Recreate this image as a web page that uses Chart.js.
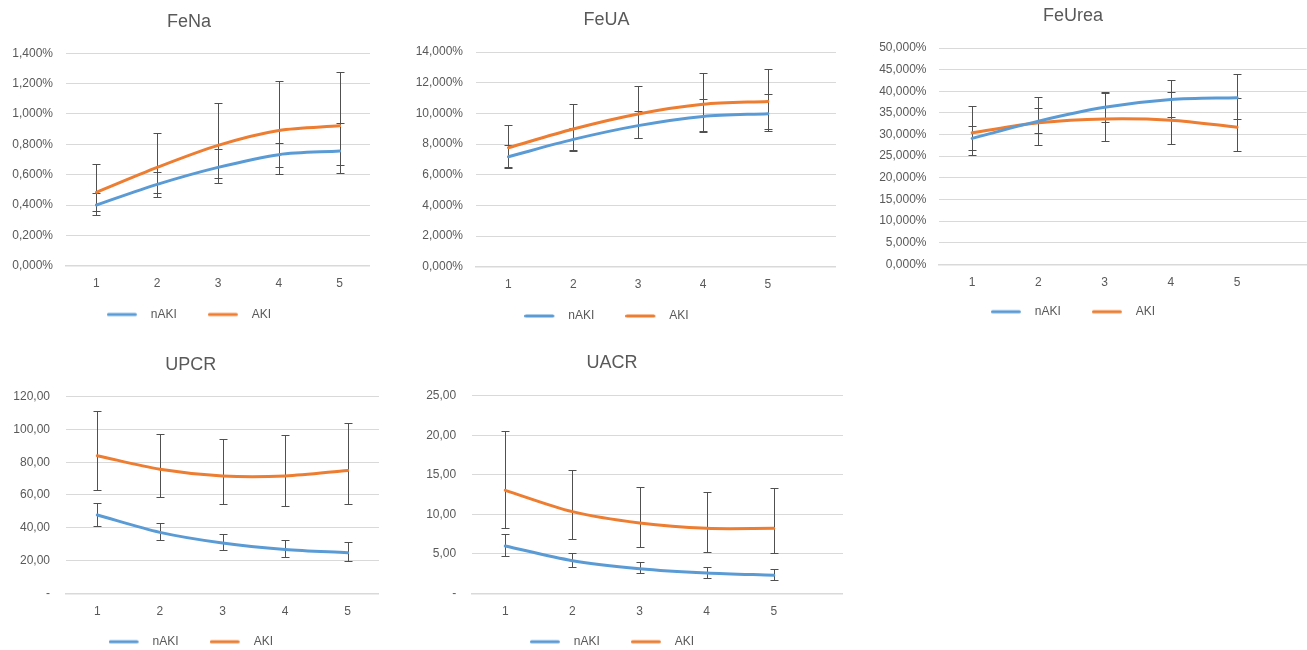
<!DOCTYPE html>
<html lang="en">
<head>
	<meta charset="UTF-8">
	<title>FeNa, FeUA, FeUrea, UPCR, UACR</title>
	<style>
		html, body { margin: 0; background: #fff; overflow: hidden; }
		.chart { position: absolute; }
	</style>
</head>
<body>
	<script src="https://cdn.jsdelivr.net/npm/chart.js"></script>

	<div id="fena" class="chart"><canvas></canvas></div>
	<div id="feua" class="chart"><canvas></canvas></div>
	<div id="feurea" class="chart"><canvas></canvas></div>
	<div id="upcr" class="chart"><canvas></canvas></div>
	<div id="uacr" class="chart"><canvas></canvas></div>

	<script>
		const categories = [1, 2, 3, 4, 5]
		const seriesNames = ["nAKI", "AKI"]
		const seriesColors = ["#5B9BD5", "#ED7D31"]

		// FeNa (%)
		const fenaNaki = [0.400, 0.536, 0.648, 0.732, 0.756]
		const fenaNakiLow = [0.360, 0.481, 0.576, 0.653, 0.666]
		const fenaNakiHigh = [0.477, 0.620, 0.769, 0.810, 0.941]
		const fenaAki = [0.484, 0.648, 0.793, 0.891, 0.922]
		const fenaAkiLow = [0.334, 0.455, 0.547, 0.603, 0.609]
		const fenaAkiHigh = [0.670, 0.875, 1.073, 1.218, 1.275]

		// FeUA (%)
		const feuaNaki = [7.17, 8.30, 9.20, 9.80, 9.98]
		const feuaNakiLow = [6.46, 7.57, 8.37, 8.85, 8.96]
		const feuaNakiHigh = [7.91, 9.07, 10.15, 10.96, 11.28]
		const feuaAki = [7.76, 8.98, 9.96, 10.59, 10.78]
		const feuaAkiLow = [6.50, 7.60, 8.40, 8.76, 8.83]
		const feuaAkiHigh = [9.26, 10.61, 11.80, 12.63, 12.91]

		// FeUrea (%)
		const feureaNaki = [29.1, 33.1, 36.3, 38.1, 38.5]
		const feureaNakiLow = [26.4, 30.4, 32.9, 34.1, 33.6]
		const feureaNakiHigh = [32.0, 36.1, 39.6, 42.6, 44.1]
		const feureaAki = [30.4, 32.7, 33.6, 33.3, 31.7]
		const feureaAkiLow = [25.2, 27.6, 28.4, 27.8, 26.2]
		const feureaAkiHigh = [36.7, 38.6, 39.8, 39.9, 38.5]

		// UPCR
		const upcrNaki = [47.8, 37.2, 30.7, 26.8, 24.8]
		const upcrNakiLow = [41.1, 32.5, 26.4, 22.2, 19.5]
		const upcrNakiHigh = [54.9, 42.7, 36.2, 32.5, 31.3]
		const upcrAki = [84.0, 75.7, 71.6, 71.6, 75.0]
		const upcrAkiLow = [63.3, 58.6, 54.5, 53.1, 54.3]
		const upcrAkiHigh = [111.2, 97.4, 94.0, 96.4, 104.1]

		// UACR
		const uacrNaki = [5.99, 4.13, 3.12, 2.57, 2.28]
		const uacrNakiLow = [4.72, 3.37, 2.53, 1.98, 1.69]
		const uacrNakiHigh = [7.50, 5.14, 3.96, 3.33, 3.12]
		const uacrAki = [13.03, 10.33, 8.90, 8.22, 8.22]
		const uacrAkiLow = [8.31, 6.83, 5.82, 5.23, 5.10]
		const uacrAkiHigh = [20.57, 15.56, 13.45, 12.86, 13.28]

		Chart.defaults.font.family = '"Liberation Sans", Arial, sans-serif'
		Chart.defaults.font.size = 12
		Chart.defaults.color = "#595959"

		const percent = v => v.toFixed(3).replace(".", ",") + "%"
		const decimal = v => v === 0 ? "-" : v.toFixed(2).replace(".", ",")

		const legendPad = 31

		// short thick line used as the legend marker
		function legendLine(color) {
			const c = document.createElement("canvas")
			c.width = 38
			c.height = 6
			const g = c.getContext("2d")
			g.strokeStyle = color
			g.lineWidth = 3
			g.lineCap = "round"
			g.beginPath()
			g.moveTo(1.5, 3)
			g.lineTo(28.5, 3)
			g.stroke()
			return c
		}
		const legendMarks = seriesColors.map(legendLine)

		const errorBars = {
			id: "errorBars",
			beforeDatasetsDraw(chart) {
				const {ctx, scales: {x, y}} = chart
				ctx.save()
				ctx.strokeStyle = "#505050"
				ctx.lineWidth = 1
				chart.data.datasets.forEach(ds => {
					ds.errorLow.forEach((low, i) => {
						const px = Math.round(x.getPixelForValue(chart.data.labels[i])) + 0.5
						const yLow = Math.round(y.getPixelForValue(low)) + 0.5
						const yHigh = Math.round(y.getPixelForValue(ds.errorHigh[i])) + 0.5
						ctx.beginPath()
						ctx.moveTo(px, yLow)
						ctx.lineTo(px, yHigh)
						ctx.moveTo(px - 4, yLow)
						ctx.lineTo(px + 4, yLow)
						ctx.moveTo(px - 4, yHigh)
						ctx.lineTo(px + 4, yHigh)
						ctx.stroke()
					})
				})
				ctx.restore()
			}
		}

		function makeChart(id, title, frame, yAxis, series) {
			const left = Math.floor(2 * frame.titleX - frame.right)
			const top = frame.row
			const width = Math.ceil(frame.right - left)
			const height = Math.ceil(frame.legendY + 16 - top)
			const padLeft = 2 * frame.titleX - frame.right - left
			const padRight = left + width - frame.right
			const padBottom = top + height - frame.legendY - 16
			const titleTop = frame.titleY - top - 10.8
			const legendHeight = 12 + legendPad + 10

			const holder = document.getElementById(id)
			Object.assign(holder.style, {left: left + "px", top: top + "px", width: width + "px", height: height + "px"})

			return new Chart(holder.querySelector("canvas"), {
				type: "line",
				data: {
					labels: categories,
					datasets: series.map((s, i) => ({
						label: seriesNames[i],
						data: s[0],
						errorLow: s[1],
						errorHigh: s[2],
						borderColor: seriesColors[i],
						backgroundColor: seriesColors[i],
						borderWidth: 3,
						borderCapStyle: "round",
						tension: 0.3,
						pointRadius: 0,
						pointHoverRadius: 0,
						pointStyle: legendMarks[i]
					}))
				},
				options: {
					responsive: true,
					maintainAspectRatio: false,
					animation: false,
					layout: {padding: {left: padLeft, right: padRight, top: 0, bottom: padBottom}},
					plugins: {
						title: {
							display: true,
							text: title,
							color: "#595959",
							font: {size: 18, weight: "normal"},
							padding: {top: titleTop, bottom: frame.top - top - 21.6 - titleTop}
						},
						legend: {
							position: "bottom",
							labels: {usePointStyle: true, pointStyleWidth: 38, padding: legendPad, color: "#595959"}
						},
						tooltip: {enabled: false}
					},
					scales: {
						x: {
							type: "linear",
							min: 0.5,
							max: frame.xMax,
							afterBuildTicks: s => { s.ticks = categories.map(v => ({value: v})) },
							afterFit: s => { s.height = top + height - padBottom - legendHeight - frame.bottom },
							grid: {display: false},
							border: {color: "#D9D9D9", width: 1.5},
							// mirrored labels are not clipped to the thin axis box; the negative padding puts them back below the axis
							ticks: {mirror: true, padding: -25.5, callback: v => String(v)}
						},
						y: {
							min: 0,
							max: yAxis.max,
							afterFit: s => { s.width = frame.left - left - padLeft },
							grid: {color: "#D9D9D9", drawTicks: false},
							border: {display: false},
							ticks: {stepSize: yAxis.step, padding: frame.yPad, callback: yAxis.format}
						}
					}
				},
				plugins: [errorBars]
			})
		}

		makeChart("fena", "FeNa",
			{row: 0, left: 66, right: 370, top: 53.3, bottom: 265.7, xMax: 5.5, titleX: 189, titleY: 21.7, legendY: 314.5, yPad: 13},
			{max: 1.4, step: 0.2, format: percent},
			[[fenaNaki, fenaNakiLow, fenaNakiHigh], [fenaAki, fenaAkiLow, fenaAkiHigh]])

		makeChart("feua", "FeUA",
			{row: 0, left: 476, right: 836, top: 52, bottom: 266.7, xMax: 6.05, titleX: 606.5, titleY: 20, legendY: 316, yPad: 13},
			{max: 14, step: 2, format: percent},
			[[feuaNaki, feuaNakiLow, feuaNakiHigh], [feuaAki, feuaAkiLow, feuaAkiHigh]])

		makeChart("feurea", "FeUrea",
			{row: 0, left: 939, right: 1306.7, top: 48, bottom: 264.3, xMax: 6.05, titleX: 1073, titleY: 16, legendY: 311.7, yPad: 12.5},
			{max: 50, step: 5, format: percent},
			[[feureaNaki, feureaNakiLow, feureaNakiHigh], [feureaAki, feureaAkiLow, feureaAkiHigh]])

		makeChart("upcr", "UPCR",
			{row: 340, left: 66, right: 379, top: 396.7, bottom: 593.3, xMax: 5.5, titleX: 190.8, titleY: 365, legendY: 641.7, yPad: 16},
			{max: 120, step: 20, format: decimal},
			[[upcrNaki, upcrNakiLow, upcrNakiHigh], [upcrAki, upcrAkiLow, upcrAkiHigh]])

		makeChart("uacr", "UACR",
			{row: 340, left: 471.7, right: 843, top: 395.7, bottom: 593.3, xMax: 6.03, titleX: 612, titleY: 363.3, legendY: 641.7, yPad: 15.5},
			{max: 25, step: 5, format: decimal},
			[[uacrNaki, uacrNakiLow, uacrNakiHigh], [uacrAki, uacrAkiLow, uacrAkiHigh]])
	</script>
</body>
</html>
